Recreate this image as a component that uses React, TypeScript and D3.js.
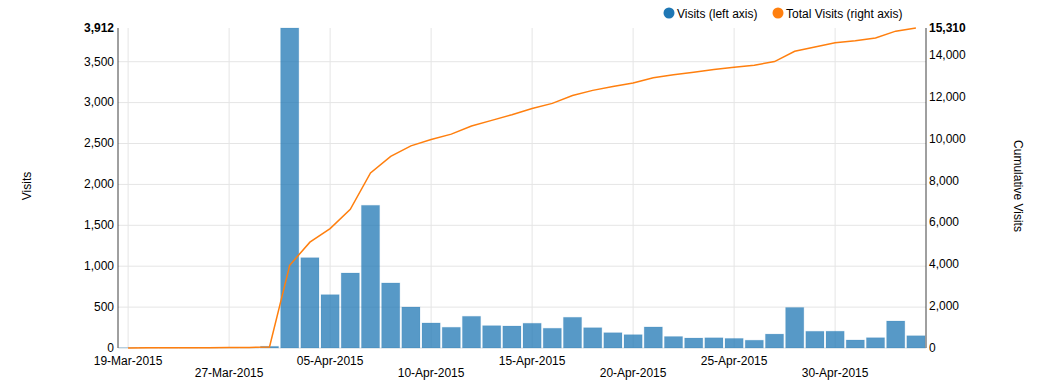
import React from "react";
import * as d3 from "d3";

const dates: string[] = [
  "19-Mar-2015", "20-Mar-2015", "22-Mar-2015", "24-Mar-2015", "25-Mar-2015",
  "27-Mar-2015", "31-Mar-2015", "02-Apr-2015", "03-Apr-2015", "04-Apr-2015",
  "05-Apr-2015", "06-Apr-2015", "07-Apr-2015", "08-Apr-2015", "09-Apr-2015",
  "10-Apr-2015", "11-Apr-2015", "12-Apr-2015", "13-Apr-2015", "14-Apr-2015",
  "15-Apr-2015", "16-Apr-2015", "17-Apr-2015", "18-Apr-2015", "19-Apr-2015",
  "20-Apr-2015", "21-Apr-2015", "22-Apr-2015", "23-Apr-2015", "24-Apr-2015",
  "25-Apr-2015", "26-Apr-2015", "27-Apr-2015", "28-Apr-2015", "29-Apr-2015",
  "30-Apr-2015", "01-May-2015", "02-May-2015", "03-May-2015", "04-May-2015",
];

const visits: number[] = [
  3, 5, 2, 4, 3, 6, 4, 20, 3912, 1104,
  652, 917, 1744, 795, 501, 306, 253, 387, 273, 269,
  302, 241, 375, 248, 187, 163, 257, 140, 122, 125,
  117, 95, 170, 495, 204, 205, 98, 126, 330, 150,
];

const totalVisits: number[] = [
  3, 8, 10, 14, 17, 23, 27, 47, 3959, 5063,
  5715, 6632, 8376, 9171, 9672, 9978, 10231, 10618, 10891, 11160,
  11462, 11703, 12078, 12326, 12513, 12676, 12933, 13073, 13195, 13320,
  13437, 13532, 13702, 14197, 14401, 14606, 14704, 14830, 15160, 15310,
];

const leftTicks: number[] = [0, 500, 1000, 1500, 2000, 2500, 3000, 3500];
const rightTicks: number[] = [0, 2000, 4000, 6000, 8000, 10000, 12000, 14000];
const legendLabels: string[] = ["Visits (left axis)", "Total Visits (right axis)"];

const W = 1044;
const H = 391;
const M = { left: 118, top: 28 };
const plotW = 808;
const plotH = 320;
const FONT = "Arial, 'Liberation Sans', sans-serif";
const BLUE = "#1f77b4";
const ORANGE = "#ff7f0e";

export default function App() {
  const n = visits.length;
  const x = d3.scaleLinear().domain([-0.5, n - 0.5]).range([0, plotW]);
  const yL = d3.scaleLinear().domain([0, 3912]).range([plotH, 0]);
  const yR = d3.scaleLinear().domain([0, 15310]).range([plotH, 0]);
  const fmt = d3.format(",");
  const step = x(1) - x(0);
  const barW = step * 0.9;
  const xTicks = x.ticks(8).filter((t) => Number.isInteger(t) && t >= 0 && t < n);

  const line = d3
    .line<number>()
    .x((_, i) => x(i))
    .y((d) => yR(d));

  return (
    <svg
      width={W}
      height={H}
      style={{ position: "absolute", left: 0, top: 0, background: "#fff" }}
      fontFamily={FONT}
      fontSize={12}
    >
      {/* legend */}
      <g>
        <circle cx={669} cy={13} r={5.5} fill={BLUE} />
        <text x={677} y={17.5} fill="#000">{legendLabels[0]}</text>
        <circle cx={778} cy={13} r={5.5} fill={ORANGE} />
        <text x={786} y={17.5} fill="#000">{legendLabels[1]}</text>
      </g>
      <g transform={`translate(${M.left},${M.top})`}>
        {/* vertical grid */}
        {xTicks.map((t) => (
          <line key={"vg" + t} x1={x(t)} x2={x(t)} y1={0} y2={plotH} stroke="#e5e5e5" />
        ))}
        {/* horizontal grid */}
        {leftTicks.map((t) => (
          <line key={"hg" + t} x1={0} x2={plotW} y1={yL(t)} y2={yL(t)} stroke="#e5e5e5" />
        ))}
        {/* bars */}
        {visits.map((v, i) => (
          <rect
            key={"b" + i}
            x={x(i) - barW / 2}
            y={yL(v)}
            width={barW}
            height={plotH - yL(v)}
            fill={BLUE}
            fillOpacity={0.75}
            stroke={BLUE}
            strokeOpacity={0.15}
            strokeWidth={1}
          />
        ))}
        {/* line */}
        <path d={line(totalVisits) || ""} fill="none" stroke={ORANGE} strokeWidth={1.5} />
        {/* left axis */}
        <line x1={0} x2={0} y1={0} y2={plotH} stroke="#000" strokeOpacity={0.75} />
        {leftTicks.map((t) => (
          <text key={"lt" + t} x={-4} y={yL(t)} dy="0.32em" textAnchor="end" fill="#000">
            {fmt(t)}
          </text>
        ))}
        <text x={-4} y={0} dy="0.32em" textAnchor="end" fontWeight="bold" fill="#000">
          {fmt(3912)}
        </text>
        {/* right axis */}
        <line x1={plotW} x2={plotW} y1={0} y2={plotH} stroke="#000" strokeOpacity={0.75} />
        {rightTicks.map((t) => (
          <text key={"rt" + t} x={plotW + 3} y={yR(t)} dy="0.32em" textAnchor="start" fill="#000">
            {fmt(t)}
          </text>
        ))}
        <text x={plotW + 3} y={0} dy="0.32em" textAnchor="start" fontWeight="bold" fill="#000">
          {fmt(15310)}
        </text>
        {/* x axis labels, staggered */}
        {xTicks.map((t, k) => (
          <text
            key={"xt" + t}
            x={x(t)}
            y={plotH + (k % 2 === 0 ? 16.5 : 28.5)}
            textAnchor="middle"
            fill="#000"
          >
            {dates[t]}
          </text>
        ))}
        {/* axis titles */}
        <text
          transform={`translate(${-87},${plotH / 2 - 2}) rotate(-90)`}
          textAnchor="middle"
          fill="#000"
        >
          Visits
        </text>
        <text
          transform={`translate(${plotW + 88},${plotH / 2 - 2}) rotate(90)`}
          textAnchor="middle"
          fill="#000"
        >
          Cumulative Visits
        </text>
      </g>
    </svg>
  );
}
